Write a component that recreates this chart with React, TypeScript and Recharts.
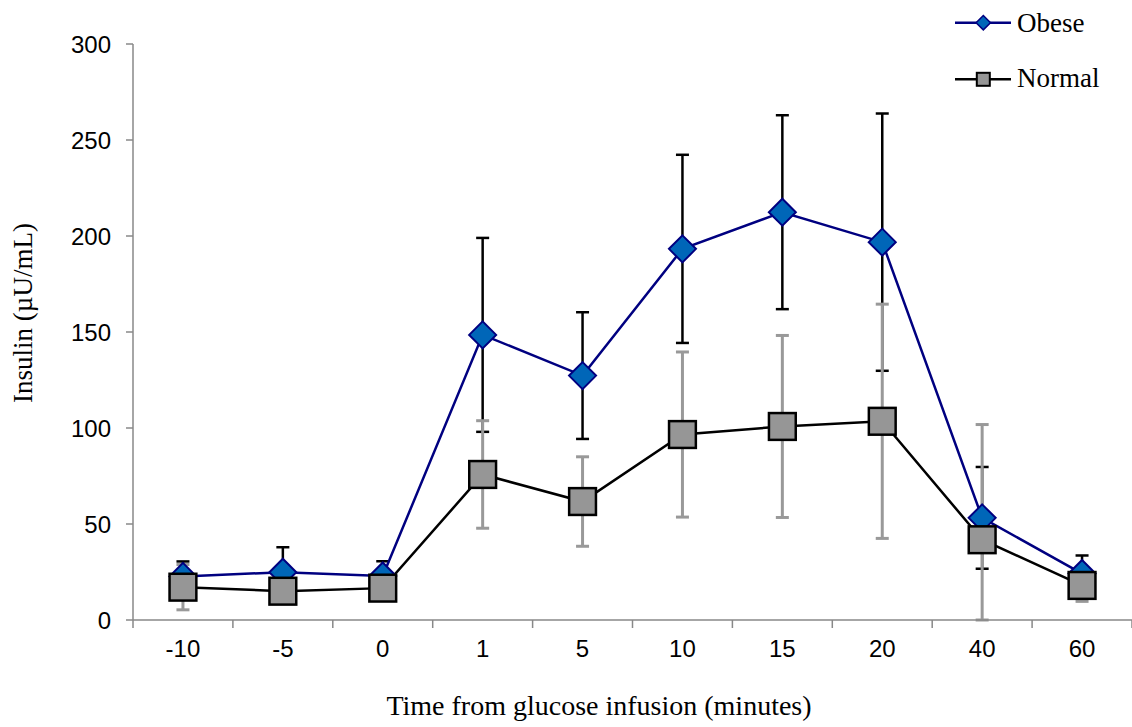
import React from 'react';
import { LineChart, Line, XAxis, YAxis, ErrorBar, Legend } from 'recharts';

const categories = ['-10', '-5', '0', '1', '5', '10', '15', '20', '40', '60'];
const obeseMean = [22.7, 24.9, 22.9, 148.5, 127.3, 193.3, 212.4, 196.8, 53.2, 24.2];
const obeseErr = [7.8, 13, 7.7, 50.5, 33, 49, 50.5, 67, 26.5, 9.4];
const normalMean = [17.1, 15, 16.6, 75.8, 61.7, 96.6, 100.8, 103.5, 41.8, 18];
const normalErr = [11.8, 6, 6, 28, 23.3, 43, 47.4, 61, 60, 8.3];
const yTicks = [0, 50, 100, 150, 200, 250, 300];

// error bars are cut off at the x axis (value 0), as in the original figure
const data = categories.map((c, i) => ({
  idx: i,
  label: c,
  obese: obeseMean[i],
  obeseErr: [Math.min(obeseErr[i], obeseMean[i]), obeseErr[i]],
  normal: normalMean[i],
  normalErr: [Math.min(normalErr[i], normalMean[i]), normalErr[i]],
}));

const xTicks: number[] = [];
categories.forEach((_, i) => {
  xTicks.push(i - 0.5);
  xTicks.push(i);
});
xTicks.push(categories.length - 0.5);

const SANS = '"Liberation Sans", Arial, sans-serif';
const SERIF = '"Liberation Serif", "Times New Roman", serif';
const AXIS = '#888888';

const XTick = (props: any) => {
  const { x, y, payload } = props;
  const v = payload.value;
  if (Number.isInteger(v)) {
    return (
      <text x={x} y={y} dy="0.71em" textAnchor="middle" fontFamily={SANS} fontSize={24} fill="#000">
        {categories[v]}
      </text>
    );
  }
  return <line x1={x} x2={x} y1={y - 20} y2={y - 12} stroke={AXIS} strokeWidth={1.5} />;
};

const Diamond = (props: any) => {
  const { cx, cy, index } = props;
  if (cx == null || cy == null) return <g key={`dn${index}`} />;
  const h = 13.5;
  return (
    <path
      key={`d${index}`}
      d={`M${cx},${cy - h}L${cx + h},${cy}L${cx},${cy + h}L${cx - h},${cy}Z`}
      fill="#0066b8"
      stroke="#000080"
      strokeWidth={2}
    />
  );
};

const Square = (props: any) => {
  const { cx, cy, index } = props;
  if (cx == null || cy == null) return <g key={`sn${index}`} />;
  const h = 13.4;
  return (
    <rect
      key={`s${index}`}
      x={cx - h}
      y={cy - h}
      width={2 * h}
      height={2 * h}
      fill="#969696"
      stroke="#000"
      strokeWidth={2.5}
    />
  );
};

const YTitle = () => (
  <text
    x={32}
    y={313}
    transform="rotate(-90, 32, 313)"
    textAnchor="middle"
    fontFamily={SERIF}
    fontSize={27}
    fill="#000"
  >
    Insulin (µU/mL)
  </text>
);

const XTitle = () => (
  <text x={599} y={715} textAnchor="middle" fontFamily={SERIF} fontSize={28} fill="#000">
    Time from glucose infusion (minutes)
  </text>
);

const LegendBox = () => (
  <svg width={192} height={100} style={{ display: 'block' }}>
    <line x1={15} x2={71} y1={22.7} y2={22.7} stroke="#000080" strokeWidth={2.5} />
    <path d="M43.3,15.5L50.5,22.7L43.3,29.9L36.1,22.7Z" fill="#0066b8" stroke="#000080" strokeWidth={1.5} />
    <text x={77} y={31.5} fontFamily={SERIF} fontSize={27} fill="#000">
      Obese
    </text>
    <line x1={15} x2={71} y1={79.3} y2={79.3} stroke="#000" strokeWidth={2.5} />
    <rect x={36.8} y={72.8} width={13} height={13} fill="#969696" stroke="#000" strokeWidth={2} />
    <text x={77} y={86.7} fontFamily={SERIF} fontSize={27} fill="#000">
      Normal
    </text>
  </svg>
);

export default function App() {
  return (
    <div style={{ position: 'absolute', left: 0, top: 0, width: 1132, height: 727, background: '#fff' }}>
      <LineChart width={1132} height={727} data={data} margin={{ top: 44, right: 0, bottom: 0, left: 0 }}>
        <XAxis
          dataKey="idx"
          type="number"
          domain={[-0.5, 9.5]}
          ticks={xTicks}
          interval={0}
          tick={<XTick />}
          tickLine={false}
          tickSize={8}
          tickMargin={12}
          height={107}
          axisLine={{ stroke: AXIS, strokeWidth: 1.5 }}
          label={<XTitle />}
        />
        <YAxis
          type="number"
          domain={[0, 300]}
          ticks={yTicks}
          allowDataOverflow
          width={133}
          tickSize={7}
          tickMargin={15}
          tick={{ fontFamily: SANS, fontSize: 24, fill: '#000' }}
          tickLine={{ stroke: AXIS, strokeWidth: 1.5 }}
          axisLine={{ stroke: AXIS, strokeWidth: 1.5 }}
          label={<YTitle />}
        />
        <Legend
          layout="horizontal"
          verticalAlign="middle"
          align="center"
          wrapperStyle={{ left: 940, top: 0, width: 192, height: 100 }}
          content={() => <LegendBox />}
        />
        <Line
          dataKey="obese"
          stroke="none"
          dot={false}
          activeDot={false}
          legendType="none"
          isAnimationActive={false}
        >
          <ErrorBar dataKey="obeseErr" direction="y" width={6.5} stroke="#000" strokeWidth={2.5} isAnimationActive={false} />
        </Line>
        <Line
          dataKey="normal"
          stroke="none"
          dot={false}
          activeDot={false}
          legendType="none"
          isAnimationActive={false}
        >
          <ErrorBar dataKey="normalErr" direction="y" width={6.5} stroke="#999999" strokeWidth={3} isAnimationActive={false} />
        </Line>
        <Line
          dataKey="obese"
          name="Obese"
          stroke="#000080"
          strokeWidth={2.5}
          dot={Diamond}
          activeDot={false}
          isAnimationActive={false}
        />
        <Line
          dataKey="normal"
          name="Normal"
          stroke="#000"
          strokeWidth={2.5}
          dot={Square}
          activeDot={false}
          isAnimationActive={false}
        />
      </LineChart>
    </div>
  );
}
